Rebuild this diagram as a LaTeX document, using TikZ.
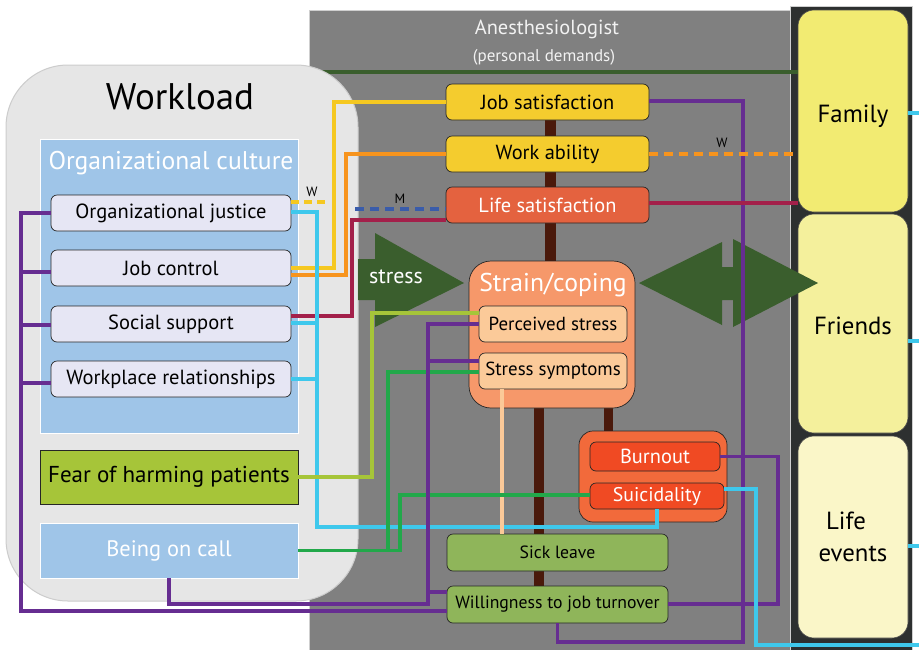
\documentclass[tikz,border=0pt]{standalone}
\usepackage{fontspec}
\setmainfont{PT Sans}
\newcommand\myfs[1]{\fontsize{#1}{#1}\selectfont}
\definecolor{panelgray}{HTML}{808080}
\definecolor{panelborder}{HTML}{CFCFCF}
\definecolor{darkpanel}{HTML}{2D3030}
\definecolor{wlfill}{HTML}{E6E6E6}
\definecolor{wlborder}{HTML}{CCCCCC}
\definecolor{ocblue}{HTML}{9FC5E8}
\definecolor{lav}{HTML}{E6E6F4}
\definecolor{feargreen}{HTML}{A6C539}
\definecolor{gold}{HTML}{F4CC2E}
\definecolor{lifesat}{HTML}{E4623F}
\definecolor{strain}{HTML}{F6986A}
\definecolor{peach}{HTML}{FBCA99}
\definecolor{bouter}{HTML}{F26A3B}
\definecolor{binner}{HTML}{F04A23}
\definecolor{sickgreen}{HTML}{8FB55A}
\definecolor{famc}{HTML}{F2EB72}
\definecolor{fric}{HTML}{F4F09C}
\definecolor{lifec}{HTML}{FAF6C8}
\definecolor{arrowgreen}{HTML}{3A5E2D}
\definecolor{spinec}{HTML}{4A190B}
\definecolor{cyel}{HTML}{F5C821}
\definecolor{corange}{HTML}{F7941D}
\definecolor{ccrim}{HTML}{A3204A}
\definecolor{cblue}{HTML}{3A5CAA}
\definecolor{ccyan}{HTML}{3EC8EC}
\definecolor{cpur}{HTML}{662D91}
\definecolor{cgreen}{HTML}{22A84A}
\definecolor{cpeach}{HTML}{FBC998}
\definecolor{whitish}{HTML}{F2F2F2}
\begin{document}
\begin{tikzpicture}[x=1pt,y=-1pt,
  box/.style={draw=black!85, line width=0.7pt, rounded corners=6pt, inner sep=0pt, align=center},
  lavbox/.style={box, fill=lav, minimum width=240pt, minimum height=36pt, font={\myfs{20.5}}},
  midbox/.style={box, minimum width=203pt, minimum height=36pt, font={\myfs{20.4}}},
  innerbox/.style={box, fill=peach, minimum width=148pt, minimum height=36pt, font={\myfs{18.9}}},
  greenbox/.style={box, fill=sickgreen, minimum width=221pt, minimum height=37pt, font={\myfs{17.7}}},
  lifebox/.style={draw=black!70, line width=0.6pt, rounded corners=16pt, inner sep=0pt, minimum width=110pt, align=center, font={\myfs{24.8}}},
  con/.style={line width=3.2pt},
  spine/.style={draw=none, fill=spinec},
  lbl/.style={font={\myfs{13.5}}, inner sep=0pt}
]
% background
\fill[white] (0,0) rectangle (919,649);
\useasboundingbox (0,0) rectangle (919,649);
% anesthesiologist panel
\draw[draw=panelborder, fill=panelgray, line width=0.8pt] (309,10) rectangle (797,655);
% dark side panel
\draw[draw=panelborder, fill=darkpanel, line width=0.8pt] (790,6) rectangle (912,655);
% life boxes
\node[lifebox, fill=famc, minimum height=202pt] (fam) at (853,111) {\raisebox{-11pt}[0pt][0pt]{Family}};
\node[lifebox, fill=fric, minimum height=219pt] (fri) at (853,323.5) {\raisebox{-10.5pt}[0pt][0pt]{Friends}};
\node[lifebox, fill=lifec, minimum height=202pt] (life) at (853,537) {Life\hspace*{14pt}\\[7pt] events};
% header
\node[text=whitish, font={\myfs{20.4}}, inner sep=0pt] (anest) at (547,29) {Anesthesiologist};
\node[text=whitish, font={\myfs{17}}, inner sep=0pt] (pd) at (544,57) {(personal demands)};
\draw[con, arrowgreen] (309,72) -- (fam.west |- 0,72);
% workload
\node[draw=wlborder, fill=wlfill, line width=1pt, rounded corners=62pt, minimum width=352pt, minimum height=536pt, inner sep=0pt] (wl) at (182,333) {};
\node[font={\myfs{37}}, inner sep=0pt] (wltitle) at (180,97) {Workload};
\node[draw=white, line width=0.8pt, fill=ocblue, minimum width=258pt, minimum height=294pt, inner sep=0pt] (oc) at (169,286) {};
\node[text=white, font={\myfs{25.6}}, inner sep=0pt] (octitle) at (171,163) {Organizational culture};
\node[lavbox] (oj) at (171,213) {Organizational justice};
\node[lavbox] (jc) at (171,268) {Job control};
\node[lavbox] (ss) at (171,324) {Social support};
\node[lavbox] (wr) at (171,379) {Workplace relationships};
\node[draw=black!85, line width=0.7pt, fill=feargreen, minimum width=258pt, minimum height=54pt, inner sep=0pt, font={\myfs{23}}] (fear) at (169,477) {Fear of harming patients};
\node[draw=white, line width=0.8pt, fill=ocblue, minimum width=258pt, minimum height=55pt, inner sep=0pt, text=white, font={\myfs{22.4}}] (call) at (169,550.5) {Being on call};
% stress arrow
\fill[arrowgreen] (358,259) -- (375,259) -- (375,233) -- (464,283) -- (375,327) -- (375,300) -- (358,300) -- cycle;
\node[text=white, font={\myfs{22}}, inner sep=0pt] (stresslbl) at (396,277) {stress};
% double arrow
\fill[arrowgreen] (639,283) -- (722,242) -- (722,267) -- (733,267) -- (733,239) -- (818,283) -- (733,327) -- (733,300) -- (722,300) -- (722,325) -- cycle;
% spines
\fill[spine] (544.5,118) rectangle (555.5,263);
\fill[spine] (534,406) rectangle (544,588);
\fill[spine] (603.5,406) rectangle (612.5,433);
% center boxes
\node[midbox, fill=gold] (js) at (547.5,102) {Job satisfaction};
\node[midbox, fill=gold] (wa) at (547.5,154) {Work ability};
\node[midbox, fill=lifesat, text=white] (ls) at (547.5,205) {Life satisfaction};
\node[box, fill=strain, rounded corners=22pt, minimum width=166pt, minimum height=147pt] (sc) at (552,334.5) {};
\node[text=white, font={\myfs{25.7}}, inner sep=0pt] (sctitle) at (553,285) {Strain/coping};
\node[innerbox] (ps) at (553,324) {Perceived stress};
\node[innerbox] (sy) at (553,371) {Stress symptoms};
\node[box, fill=bouter, rounded corners=14pt, minimum width=148pt, minimum height=91pt] (bo) at (653,476.5) {};
\node[box, fill=binner, text=white, minimum width=130pt, minimum height=29pt, font={\myfs{20.4}}] (bu) at (655,456.5) {Burnout};
\node[box, fill=binner, text=white, minimum width=134pt, minimum height=26pt, font={\myfs{19.8}}] (su) at (657,496) {Suicidality};
\node[greenbox] (sl) at (557.5,552.5) {Sick leave};
\node[greenbox] (wt) at (557.5,604.5) {Willingness to job turnover};
% free ends
\coordinate (mstart) at (355,209);
\coordinate (wend) at (330,202);
\coordinate (cyanend) at (919,645);
% connectors: left side
\draw[con, cyel] (jc.east |- 0,268) -| (334,102) -- (js.west |- 0,102);
\draw[con, corange] (jc.east |- 0,275) -| (346,154) -- (wa.west);
\draw[con, cyel, dashed, dash pattern=on 8pt off 5pt] (oj.east |- 0,202) -- (wend);
\node[lbl] (wlbl1) at (312,192) {W};
\draw[con, cblue, dashed, dash pattern=on 9pt off 6pt] (mstart) -- (ls.west |- 0,209);
\node[lbl] (mlbl) at (400,199) {M};
\draw[con, ccrim] (ss.east |- 0,316) -| (352,220) -- (ls.west |- 0,220);
\draw[con, ccyan] (oj.east |- 0,212) -| (317,527) -| (su.south);
\draw[con, ccyan] (ss.east |- 0,323) -- (317,323);
\draw[con, ccyan] (wr.east |- 0,379) -- (317,379);
\draw[con, feargreen] (fear.east) -| (372,313) -- (ps.west |- 0,313);
\draw[con, cpeach] (sy.south -| 502,0) -- (sl.north -| 502,0);
\draw[con, cgreen] (call.east) -| (388,372) -- (sy.west |- 0,372);
\draw[con, cgreen] (call.east) -| (400,495) -- (su.west |- 0,495);
\draw[con, cpur] (ps.west |- 0,324) -| (428,604) -| (call.south);
\draw[con, cpur] (sy.west |- 0,361) -- (428,361);
\draw[con, cpur] (wt.west |- 0,592) -- (428,592);
\draw[con, cpur] (oj.west |- 0,213) -| (21,611) -- (wt.west |- 0,611);
\draw[con, cpur] (jc.west |- 0,272) -- (21,272);
\draw[con, cpur] (ss.west |- 0,325) -- (21,325);
\draw[con, cpur] (wr.west |- 0,383) -- (21,383);
% connectors: right side
\draw[con, cpur] (js.east |- 0,101) -| (743,642) -| (wt.south);
\draw[con, cpur] (bu.east) -| (778,604) -- (wt.east |- 0,604);
\draw[con, corange, dashed, dash pattern=on 9pt off 6pt] (wa.east) -- (fam.west |- 0,154);
\node[lbl] (wlbl2) at (722,143) {W};
\draw[con, ccrim] (ls.east |- 0,203) -- (fam.west |- 0,203);
\draw[con, ccyan] (su.east |- 0,489) -| (756,645) -- (cyanend);
\draw[con, ccyan] (fam.east |- 0,113) -- (919,113);
\draw[con, ccyan] (fri.east |- 0,341) -- (919,341);
\draw[con, ccyan] (life.east |- 0,546) -- (919,546);
\end{tikzpicture}
\end{document}
